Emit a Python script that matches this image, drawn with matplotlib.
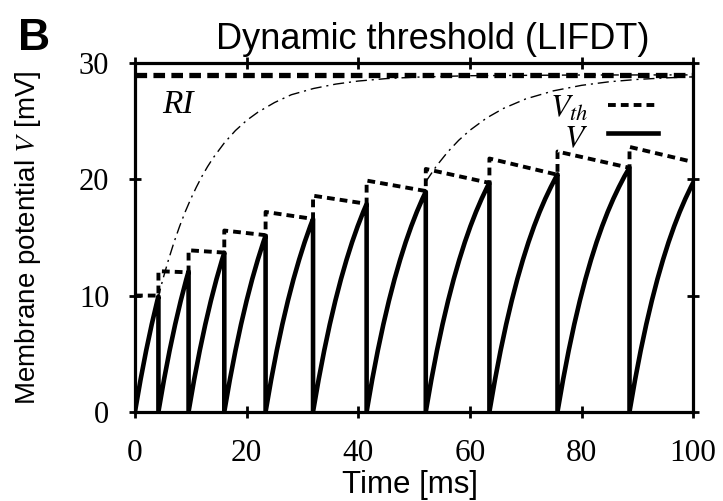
import numpy as np
import matplotlib
matplotlib.use("Agg")
import matplotlib.pyplot as plt
from matplotlib.lines import Line2D

plt.rcParams['font.family'] = ['Liberation Sans', 'DejaVu Sans']
plt.rcParams['mathtext.fontset'] = 'stix'

# ---------------- data ----------------
RI = 29.0
spike_times = [4.2, 9.6, 16.0, 23.4, 31.9, 41.5, 52.1, 63.5, 75.7, 88.6]
t_end = 100.0
# membrane rise after a reset (time since reset [ms], V [mV])
rise_t = [0, 1, 2, 3, 4, 5, 6, 7, 8, 9, 10, 11, 12, 13, 14, 16, 18, 20, 22, 25,
          28, 32, 36, 40, 45, 50, 60, 80, 100]
rise_v = [0.0, 2.76, 5.26, 7.52, 9.56, 11.41, 13.08, 14.60, 15.97, 17.21, 18.33,
          19.34, 20.27, 21.10, 21.85, 23.14, 24.21, 25.08, 25.78, 26.62, 27.29,
          27.83, 28.21, 28.47, 28.68, 28.80, 28.93, 28.99, 29.0]
# dynamic threshold: value just before each spike, and just after the jump
th_start = 10.0
th_before = [10.0, 12.0, 13.7, 15.2, 16.6, 17.9, 19.0, 19.7, 20.4, 21.0]
th_after = [12.1, 13.9, 15.6, 17.2, 18.6, 19.9, 20.9, 21.8, 22.4, 22.8]
th_final = 21.5
# second dash-dotted relaxation curve
relax_t = [52.1, 54, 56, 58, 60, 63, 66, 70, 75, 80, 85, 90, 95, 100]
relax_v = [19.8, 21.15, 22.35, 23.37, 24.23, 25.29, 26.11, 26.93, 27.63, 28.10,
           28.41, 28.61, 28.74, 28.83]

xticks = [0, 20, 40, 60, 80, 100]
yticks = [0, 10, 20, 30]

# ---------------- build traces ----------------
rise_t_arr = np.array(rise_t, dtype=float)
rise_v_arr = np.array(rise_v, dtype=float)
resets = [0.0] + spike_times
ends = spike_times + [t_end]
vt, vv = [], []
for i, (r, s) in enumerate(zip(resets, ends)):
    m = rise_t_arr < (s - r)
    vt.extend(list(r + rise_t_arr[m]))
    vv.extend(list(rise_v_arr[m]))
    vt.append(s)
    vv.append(float(np.interp(s - r, rise_t_arr, rise_v_arr)))
    if i < len(spike_times):
        vt.append(s)
        vv.append(0.0)

tht = [0.0]
thv = [th_start]
for s, b, a in zip(spike_times, th_before, th_after):
    tht += [s, s]
    thv += [b, a]
tht.append(t_end)
thv.append(th_final)

# ---------------- figure ----------------
fig = plt.figure(figsize=(7.23, 5.01), dpi=100)
ax = fig.add_axes([0.1867, 0.1782, 0.772, 0.6955])

ax.axhline(RI, color='black', lw=3.8, dashes=(2.2, 1.2), zorder=2)
ax.plot(rise_t_arr, rise_v_arr, color='black', lw=1.0, dashes=(8, 3.5, 1.5, 3.5), zorder=1)
ax.plot(relax_t, relax_v, color='black', lw=1.0, dashes=(8, 3.5, 1.5, 3.5), zorder=1)
ax.plot(tht, thv, color='black', lw=2.8, dashes=(2.0, 1.3), zorder=3)
ax.plot(vt, vv, color='black', lw=3.3, zorder=4)

ax.set_xlim(0, 100)
ax.set_ylim(0, 30)
ax.set_xticks(xticks)
ax.set_yticks(yticks)
ax.set_xticklabels([str(v) for v in xticks], family='Liberation Serif', fontsize=22.5)
ax.set_yticklabels([str(v) for v in yticks], family='Liberation Serif', fontsize=22)
ax.tick_params(axis='both', direction='inout', length=9, width=2,
               top=True, right=True)
ax.tick_params(axis='x', pad=15)
ax.tick_params(axis='y', pad=14)
for sp in ax.spines.values():
    sp.set_linewidth(2.3)

ax.set_xlabel('Time [ms]', fontsize=22.5)
ax.xaxis.set_label_coords(0.493, -0.168)
ax.set_ylabel('Membrane potential $V$ [mV]', fontsize=20)
ax.yaxis.set_label_coords(-0.165, 0.5)

# annotations
ax.text(0.048, 0.857, 'RI', transform=ax.transAxes, family='Liberation Serif',
        style='italic', fontsize=24, va='baseline', ha='left')
ax.text(0.812, 0.846, '$V_{th}$', transform=ax.transAxes, fontsize=23,
        va='baseline', ha='right')
ax.text(0.768, 0.760, '$V$', transform=ax.transAxes, fontsize=23,
        va='baseline', ha='left')
ax.add_line(Line2D([0.848, 0.937], [0.880, 0.880], transform=ax.transAxes,
                   color='black', lw=2.8, dashes=(2.0, 1.3)))
ax.add_line(Line2D([0.848, 0.937], [0.801, 0.801], transform=ax.transAxes,
                   color='black', lw=3.3))

fig.text(0.598, 0.902, 'Dynamic threshold (LIFDT)', ha='center', va='baseline',
         fontsize=26)
fig.text(0.025, 0.900, 'B', ha='left', va='baseline', fontsize=32,
         fontweight='bold')

fig.savefig('out.png', dpi=100)
